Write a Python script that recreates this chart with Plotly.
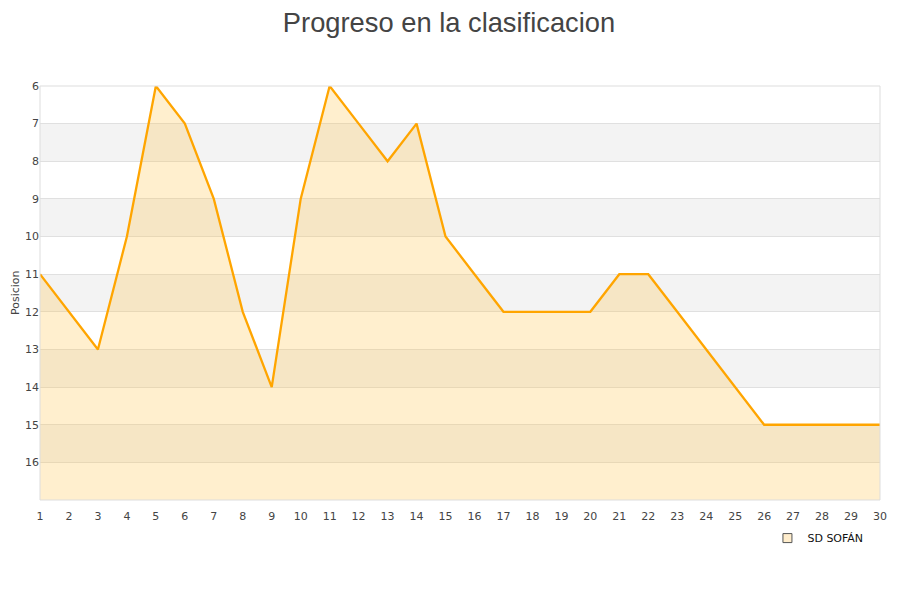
import plotly.graph_objects as go

jornadas = list(range(1, 31))
posiciones = [11, 12, 13, 10, 6, 7, 9, 12, 14, 9, 6, 7, 8, 7, 10, 11, 12, 12, 12, 12,
              11, 11, 12, 13, 14, 15, 15, 15, 15, 15]
equipo = "SD SOFÁN"
y_ticks = list(range(6, 17))
y_min, y_max = 6, 17

fig = go.Figure()

# baseline for fill
fig.add_trace(go.Scatter(x=jornadas, y=[y_max] * len(jornadas), mode="lines",
                         line=dict(width=0), showlegend=False, hoverinfo="skip"))
fig.add_trace(go.Scatter(x=jornadas, y=posiciones, mode="lines", fill="tonexty",
                         fillcolor="rgba(255,190,60,0.25)",
                         line=dict(color="#FFA500", width=2.3), showlegend=False,
                         name=equipo))
# legend entry
fig.add_trace(go.Scatter(x=[None], y=[None], mode="markers", name=equipo,
                         marker=dict(symbol="square", size=9, color="#FFEDCC",
                                     line=dict(color="#555", width=1))))

shapes = []
for b in range(7, 17, 2):
    shapes.append(dict(type="rect", xref="paper", yref="y", x0=0, x1=1, y0=b, y1=b + 1,
                       fillcolor="#F3F3F3", line=dict(width=0), layer="below"))
shapes.append(dict(type="rect", xref="paper", yref="paper", x0=0, x1=1, y0=0, y1=1,
                   line=dict(color="#DDDDDD", width=1), fillcolor="rgba(0,0,0,0)"))

fig.update_layout(
    width=900, height=600,
    paper_bgcolor="white", plot_bgcolor="white",
    margin=dict(l=32, r=28, t=78, b=108),
    title=dict(text="Progreso en la clasificacion", x=0.49, xanchor="center", y=0.976,
               yanchor="middle",
               font=dict(family="Liberation Sans, Arial", size=27.3, color="#444")),
    font=dict(family="DejaVu Sans", size=11, color="#444"),
    shapes=shapes,
    showlegend=True,
    legend=dict(x=0.866, y=-0.092, xanchor="left", yanchor="middle",
                font=dict(size=11, color="#111"), bgcolor="rgba(0,0,0,0)"),
    annotations=[dict(text="Posicion", xref="paper", yref="paper", x=0, y=0.5,
                      xanchor="center", yanchor="middle", xshift=-25, textangle=-90,
                      showarrow=False, font=dict(size=11, color="#444"))],
    xaxis=dict(range=[1, 30], tickmode="array", tickvals=jornadas, automargin=False,
               ticktext=[str(j) for j in jornadas], showgrid=False, zeroline=False,
               showline=False, ticks="outside", ticklen=6, tickcolor="rgba(0,0,0,0)",
               tickfont=dict(size=11, color="#444")),
    yaxis=dict(range=[y_max, y_min], tickmode="array", tickvals=y_ticks, automargin=False,
               ticktext=[str(t) for t in y_ticks], showgrid=True, gridcolor="#E0E0E0",
               zeroline=False, showline=False, ticks="",
               tickfont=dict(size=11, color="#444")),
)

fig.write_html("out.html")
